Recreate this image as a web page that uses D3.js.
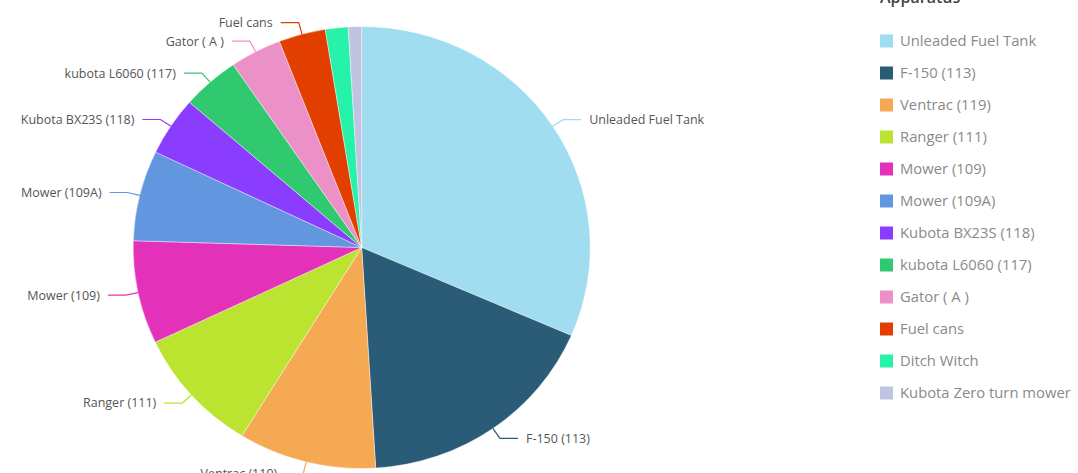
<!DOCTYPE html>
<html>
<head>
<meta charset="utf-8">
<script src="https://cdn.jsdelivr.net/npm/d3@7"></script>
<style>
  body { margin: 0; background: #fff; }
  svg { display: block; font-family: "Open Sans", sans-serif; }
</style>
</head>
<body>
<svg id="chart" width="1078" height="473"></svg>
<script>
// apparatus names, share of total, slice colours
const categories = ["Unleaded Fuel Tank", "F-150 (113)", "Ventrac (119)", "Ranger (111)", "Mower (109)",
  "Mower (109A)", "Kubota BX23S (118)", "kubota L6060 (117)", "Gator ( A )", "Fuel cans",
  "Ditch Witch", "Kubota Zero turn mower"];
const values = [31.5, 17.5, 9.75, 9.17, 7.53, 6.61, 4.31, 4.08, 3.64, 3.31, 1.61, 0.94];
const colors = ["#a0ddf0", "#2a5b77", "#f5a952", "#bae42f", "#e332b9", "#6297e0",
  "#8b3dff", "#31c96f", "#ec90c8", "#e13e00", "#27f2aa", "#c0c4e3"];

const svg = d3.select("#chart");
const cx = 361.7, cy = 247.5;
const R = 221, sx = 1.034; // the pie is a touch wider than tall

const data = categories.map((c, i) => ({ name: c, value: values[i], color: colors[i] }));
const pie = d3.pie().sort(null).value(d => d.value);
const arcs = pie(data);
const arc = d3.arc().innerRadius(0).outerRadius(R);

svg.append("g")
  .attr("transform", `translate(${cx},${cy}) scale(${sx},1)`)
  .selectAll("path")
  .data(arcs)
  .join("path")
  .attr("d", arc)
  .attr("fill", d => d.data.color)
  .attr("stroke", "#fff")
  .attr("stroke-width", 0.4);

// labels with leader lines (small slices have none)
const pt = (a, r) => [cx + Math.sin(a) * r * sx, cy - Math.cos(a) * r];
const labelled = arcs.filter(d => d.endAngle - d.startAngle > 0.15);
const lg = svg.append("g");
labelled.forEach(d => {
  const a = (d.startAngle + d.endAngle) / 2;
  const right = Math.sin(a) > 0 ? 1 : -1;
  const p1 = pt(a, R);
  const p2 = pt(a, R + 12);
  const p3 = [p2[0] + right * 18, p2[1]];
  lg.append("polyline")
    .attr("points", [p1, p2, p3].map(p => p.join(",")).join(" "))
    .attr("fill", "none")
    .attr("stroke", d.data.color)
    .attr("stroke-width", 1.2);
  lg.append("text")
    .attr("x", p3[0] + right * 8)
    .attr("y", p3[1])
    .attr("dy", "0.35em")
    .attr("text-anchor", right > 0 ? "start" : "end")
    .attr("font-size", 12.5)
    .attr("fill", "#555")
    .text(d.data.name);
});

// legend
const legend = svg.append("g").attr("transform", "translate(880,0)");
legend.append("text")
  .attr("x", 0).attr("y", 3)
  .attr("font-size", 16).attr("font-weight", 600)
  .attr("fill", "#444")
  .text("Apparatus");
const rowY = d3.scaleLinear().domain([0, 1]).range([41, 73]);
const rows = legend.selectAll("g.row")
  .data(data)
  .join("g")
  .attr("class", "row")
  .attr("transform", (d, i) => `translate(0,${rowY(i)})`);
rows.append("rect")
  .attr("x", 0).attr("y", -6.5)
  .attr("width", 13).attr("height", 13)
  .attr("fill", d => d.color);
rows.append("text")
  .attr("x", 20).attr("y", 0).attr("dy", "0.35em")
  .attr("font-size", 14.8)
  .attr("fill", "#8a8a8a")
  .text(d => d.name);
</script>
</body>
</html>
